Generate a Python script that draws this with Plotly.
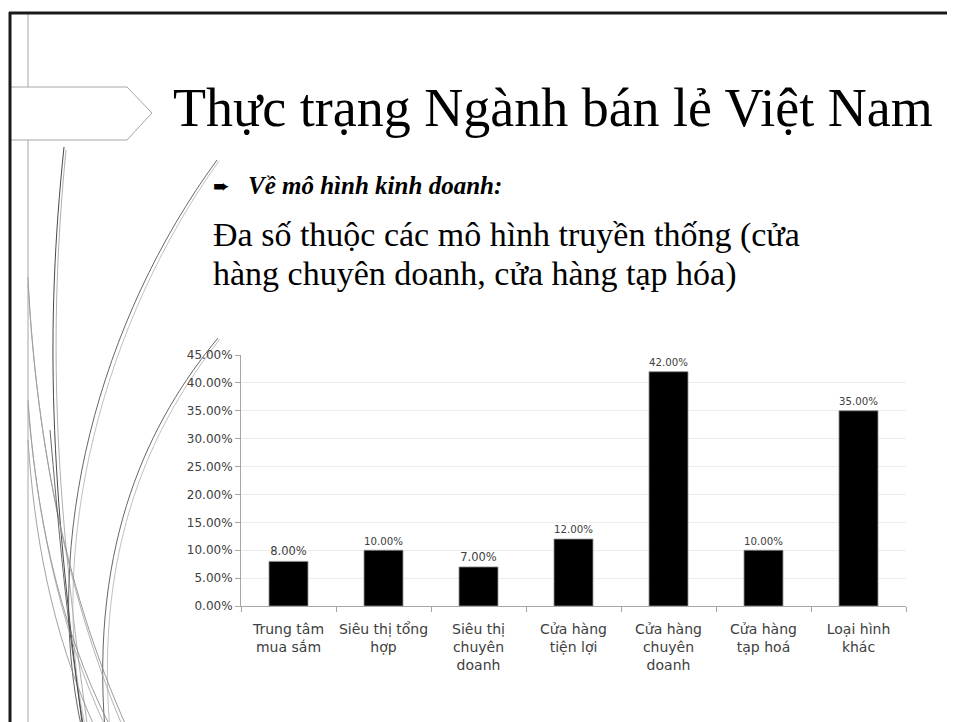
import plotly.graph_objects as go

# chart data
categories = [
    "Trung tâm<br>mua sắm",
    "Siêu thị tổng<br>hợp",
    "Siêu thị<br>chuyên<br>doanh",
    "Cửa hàng<br>tiện lợi",
    "Cửa hàng<br>chuyên<br>doanh",
    "Cửa hàng<br>tạp hoá",
    "Loại hình<br>khác",
]
shares = [0.08, 0.10, 0.07, 0.12, 0.42, 0.10, 0.35]
y_ticks = [0.0, 0.05, 0.10, 0.15, 0.20, 0.25, 0.30, 0.35, 0.40, 0.45]

title_text = "Thực trạng Ngành bán lẻ Việt Nam"
bullet_text = "Về mô hình kinh doanh:"
body_lines = ["Đa số thuộc các mô hình truyền thống (cửa",
              "hàng chuyên doanh, cửa hàng tạp hóa)"]

W, H = 955, 722
OFF = 8  # page body margin in the browser
SANS = "DejaVu Sans"
SERIF = "Liberation Serif"


def px(x):
    return (x - OFF) / W


def py(y):
    return 1 - (y - OFF) / H


def curve(pts):
    # cubic bezier given in screen pixels -> paper path
    (x0, y0), (x1, y1), (x2, y2), (x3, y3) = pts
    return "M {} {} C {} {}, {} {}, {} {}".format(
        px(x0), py(y0), px(x1), py(y1), px(x2), py(y2), px(x3), py(y3))


fig = go.Figure()

fig.add_trace(go.Bar(
    x=categories,
    y=shares,
    marker_color="#000000",
    marker_line_color="#8c8c8c",
    marker_line_width=0.8,
    texttemplate="%{y:.2%}",
    textposition="outside",
    textfont=dict(family=SANS, size=11.5, color="#404040"),
    cliponaxis=False,
    showlegend=False,
))

# background decoration (wisp lines on the left)
shapes = []
wisps = [
    ([(64, 147), (45, 330), (50, 480), (83, 730)], "#333333", 0.9),
    ([(66, 150), (48, 335), (54, 490), (88, 730)], "#9a9a9a", 0.8),
    ([(217, 160), (100, 320), (40, 540), (82, 730)], "#555555", 0.9),
    ([(219, 161), (103, 323), (45, 545), (86, 730)], "#b0b0b0", 0.8),
    ([(218, 338), (150, 420), (90, 540), (105, 730)], "#555555", 0.9),
    ([(220, 339), (153, 423), (94, 545), (110, 730)], "#b0b0b0", 0.8),
    ([(28, 277), (35, 420), (60, 580), (128, 730)], "#808080", 0.8),
    ([(28, 284), (36, 425), (62, 585), (124, 730)], "#a0a0a0", 0.8),
    ([(28, 400), (35, 500), (55, 620), (112, 730)], "#808080", 0.8),
    ([(28, 406), (36, 505), (57, 625), (107, 730)], "#a0a0a0", 0.8),
    ([(28, 440), (34, 530), (50, 630), (96, 730)], "#8a8a8a", 0.8),
    ([(50, 430), (58, 520), (66, 620), (84, 730)], "#444444", 0.8),
]
for pts, col, w in wisps:
    shapes.append(dict(type="path", xref="paper", yref="paper", layer="below",
                       path=curve(pts), line=dict(color=col, width=w)))

# thin vertical guide line
shapes.append(dict(type="line", xref="paper", yref="paper", layer="below",
                   x0=px(28), x1=px(28), y0=py(13), y1=py(730),
                   line=dict(color="#a6a6a6", width=1)))
# title arrow box
arrow = "M {} {} L {} {} L {} {} L {} {} L {} {} Z".format(
    px(10), py(87), px(127), py(87), px(152), py(113), px(127), py(140), px(10), py(140))
shapes.append(dict(type="path", xref="paper", yref="paper", layer="below",
                   path=arrow, fillcolor="white", line=dict(color="#a6a6a6", width=1)))
# slide border
shapes.append(dict(type="line", xref="paper", yref="paper",
                   x0=px(10), x1=px(10), y0=py(12), y1=py(730),
                   line=dict(color="#1a1a1a", width=3)))
shapes.append(dict(type="line", xref="paper", yref="paper",
                   x0=px(9), x1=px(965), y0=py(13), y1=py(13),
                   line=dict(color="#1a1a1a", width=3)))

annotations = [
    dict(text=title_text, x=px(171), y=py(108), xref="paper", yref="paper",
         xanchor="left", yanchor="middle", showarrow=False,
         font=dict(family=SERIF, size=54, color="#000000")),
    dict(text="➨", x=px(211), y=py(186), xref="paper", yref="paper",
         xanchor="left", yanchor="middle", showarrow=False,
         font=dict(family=SANS, size=20, color="#000000")),
    dict(text="<b><i>" + bullet_text + "</i></b>", x=px(246), y=py(185),
         xref="paper", yref="paper", xanchor="left", yanchor="middle",
         showarrow=False, font=dict(family=SERIF, size=25, color="#000000")),
]
for line, yc in zip(body_lines, [235, 274]):
    annotations.append(dict(text=line, x=px(211), y=py(yc), xref="paper", yref="paper",
                            xanchor="left", yanchor="middle", showarrow=False,
                            font=dict(family=SERIF, size=34, color="#000000")))

fig.update_layout(
    width=W,
    height=H,
    margin=dict(l=0, r=0, t=0, b=0),
    paper_bgcolor="white",
    plot_bgcolor="white",
    bargap=0.59,
    shapes=shapes,
    annotations=annotations,
    xaxis=dict(
        domain=[px(241), px(906)],
        automargin=False,
        showline=True,
        linecolor="#a6a6a6",
        linewidth=1,
        ticks="outside",
        tickson="boundaries",
        ticklen=5,
        tickcolor="#a6a6a6",
        tickangle=0,
        ticklabelstandoff=10,
        tickfont=dict(family=SANS, size=14, color="#404040"),
        showgrid=False,
    ),
    yaxis=dict(
        domain=[py(606), py(355)],
        automargin=False,
        range=[0, 0.45],
        tickvals=y_ticks,
        tickformat=".2%",
        showline=True,
        linecolor="#a6a6a6",
        linewidth=1,
        ticks="outside",
        ticklen=5,
        tickcolor="#a6a6a6",
        tickfont=dict(family=SANS, size=12, color="#404040"),
        showgrid=True,
        gridcolor="#ececec",
        gridwidth=1,
        zeroline=False,
    ),
)

fig.write_html("out.html")
